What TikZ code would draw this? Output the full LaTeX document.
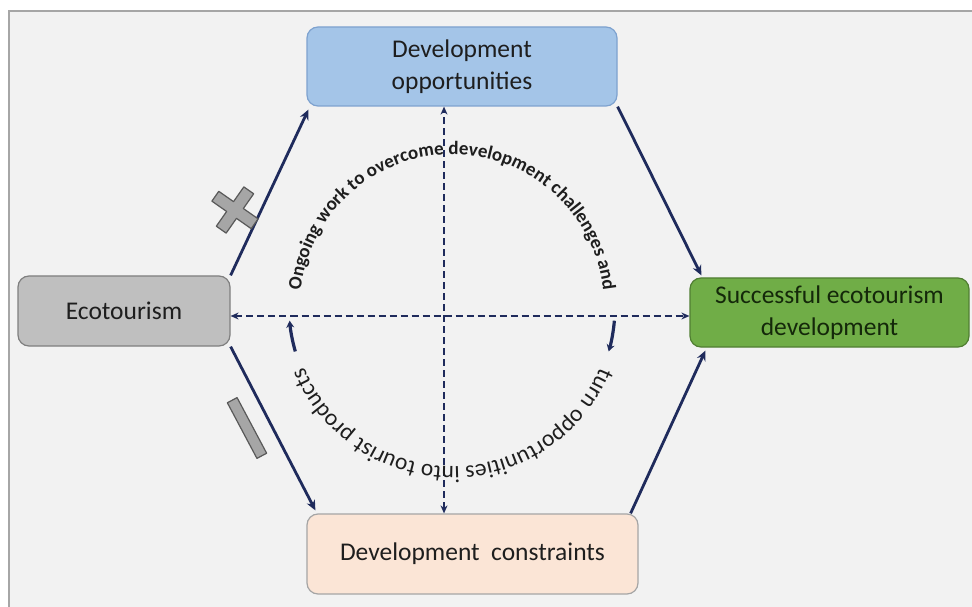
\documentclass[tikz,border=0pt]{standalone}
\usepackage{fontspec}
\setmainfont{Carlito}
\usetikzlibrary{arrows.meta,decorations.text,calc}

\definecolor{navy}{HTML}{1F2B5C}
\definecolor{canvasgray}{HTML}{F2F2F2}
\definecolor{framegray}{HTML}{A6A6A6}
\definecolor{oppfill}{HTML}{A4C5E8}
\definecolor{oppdraw}{HTML}{7EA2CF}
\definecolor{ecofill}{HTML}{BFBFBF}
\definecolor{ecodraw}{HTML}{7F7F7F}
\definecolor{succfill}{HTML}{70AD47}
\definecolor{succdraw}{HTML}{507E32}
\definecolor{succtext}{HTML}{14280A}
\definecolor{consfill}{HTML}{FBE5D6}
\definecolor{consdraw}{HTML}{A5A5A5}
\definecolor{signfill}{HTML}{A6A6A6}
\definecolor{signdraw}{HTML}{595959}
\definecolor{labeltext}{HTML}{1E1E1E}

\tikzset{
  box/.style={rounded corners=11pt, line width=1.2pt, inner sep=0pt, align=center,
    font=\fontsize{25.5}{32}\selectfont, text=labeltext},
  link/.style={navy, line width=2.8pt, -{Stealth[length=10pt,width=9pt]}},
  dashlink/.style={navy, line width=2.2pt, dash pattern=on 7pt off 4pt,
    {Stealth[length=8pt,width=7pt]}-{Stealth[length=8pt,width=7pt]}},
  sign/.style={fill=signfill, draw=signdraw, line width=1.2pt, line join=round},
  turnarrow/.style={navy, line width=3.2pt, -{Stealth[length=7pt,width=8pt]}},
}

\begin{document}
\begin{tikzpicture}[x=1pt,y=1pt]
\useasboundingbox (0,0) rectangle (972,606);
\fill[white] (0,0) rectangle (972,606);
\draw[fill=canvasgray, draw=framegray, line width=1.5pt] (9,-20) rectangle (990,595);

% boxes
\node[box, fill=oppfill, draw=oppdraw, minimum width=310pt, minimum height=79pt]
  (opp) at (462,539.5) {Development\\opportunities};
\node[box, fill=ecofill, draw=ecodraw, minimum width=212pt, minimum height=70pt]
  (eco) at (124,295) {Ecotourism};
\node[box, fill=succfill, draw=succdraw, text=succtext, minimum width=279pt, minimum height=69pt]
  (succ) at (829.5,293.5) {Successful ecotourism\\development};
\node[box, fill=consfill, draw=consdraw, minimum width=331pt, minimum height=80pt]
  (cons) at (472.5,52) {Development\ \ constraints};

% solid links
\draw[link] (eco.north east) -- ([xshift=2pt,yshift=-3pt]opp.south west);
\draw[link] (opp.south east) -- ([xshift=12pt,yshift=2pt]succ.north west);
\draw[link] (eco.south east) -- ([xshift=9pt,yshift=3pt]cons.north west);
\draw[link] ([xshift=-8pt]cons.north east) -- ([xshift=16pt,yshift=-3pt]succ.south west);

% dashed cross
\coordinate (hub) at (444,290);
\draw[dashlink] (cons.north -| hub) -- (opp.south -| hub);
\draw[dashlink] (eco.east |- hub) -- (succ.west |- hub);

% ring of text
\coordinate (ring) at (452,299.5);
\path[decorate, decoration={text along path, text align=center, text color=labeltext,
    text={|\fontsize{19}{19}\selectfont\bfseries|Ongoing work to overcome development challenges and}}]
  ([shift={(176:152pt)}]ring) arc[start angle=176, end angle=4, radius=152pt];
\path[decorate, decoration={text along path, text align=center, text color=labeltext,
    text={|\fontsize{23.5}{23.5}\selectfont|turn opportunities into tourist products}}]
  ([shift={(-19:160pt)}]ring) arc[start angle=-19, end angle=-161, radius=160pt];

% turning arrows on the ring
\draw[turnarrow] ([shift={(196:163pt)}]ring) arc[start angle=196, end angle=185, radius=163pt];
\draw[turnarrow] ([shift={(-5:163pt)}]ring) arc[start angle=-5, end angle=-16, radius=163pt];

% plus sign
\draw[sign, shift={(235,396)}, rotate=55]
  (-24,-6) -- (-6,-6) -- (-6,-24) -- (6,-24) -- (6,-6) -- (24,-6)
  -- (24,6) -- (6,6) -- (6,24) -- (-6,24) -- (-6,6) -- (-24,6) -- cycle;
% minus sign
\draw[sign, shift={(247,178)}, rotate=-62] (-31.5,-5.5) rectangle (31.5,5.5);
\end{tikzpicture}
\end{document}
